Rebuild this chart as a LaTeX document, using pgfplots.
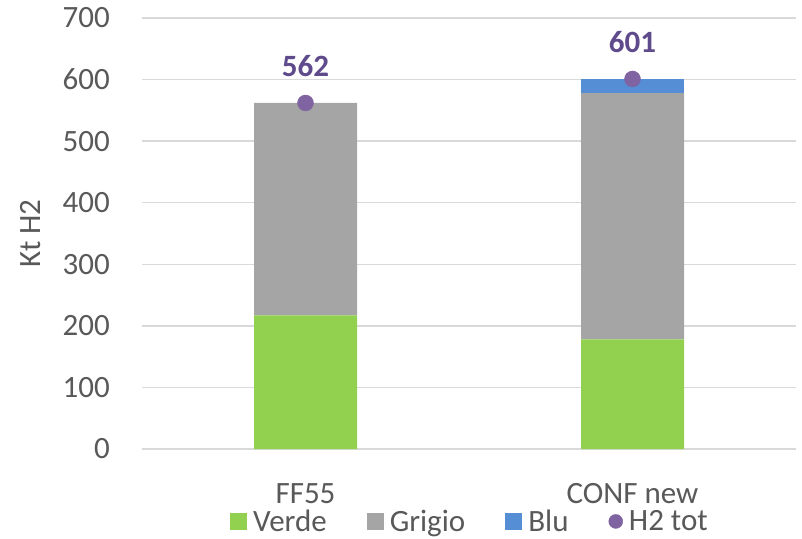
\documentclass[border=0pt]{standalone}
\usepackage{fontspec}
\setmainfont{Carlito}
\usepackage{pgfplots}
\pgfplotsset{compat=1.18}
\definecolor{verde}{RGB}{146,208,80}
\definecolor{grigio}{RGB}{165,165,165}
\definecolor{blu}{RGB}{85,142,213}
\definecolor{viola}{RGB}{128,100,162}
\definecolor{violadark}{RGB}{95,75,139}
\definecolor{txt}{RGB}{89,89,89}
\definecolor{gridc}{RGB}{217,217,217}
\newcommand{\bigf}{\fontsize{31}{36}\selectfont}
\begin{document}
\begin{tikzpicture}
\useasboundingbox (-142pt,-89pt) rectangle (660pt,449pt);
\pgfplotsset{base/.style={scale only axis, width=654pt, height=431pt,
  xmin=-0.5, xmax=1.5, ymin=0, ymax=700, clip=false,
  /pgf/number format/assume math mode=true}}
\begin{axis}[base, ybar stacked, bar width=103pt,
  axis line style={draw=none}, major tick length=0pt,
  ytick={0,100,...,700}, ymajorgrids, grid style={gridc, line width=1.3pt},
  xtick={0,1}, xticklabels={FF55, CONF new},
  tick label style={font=\bigf, text=txt},
  yticklabel style={anchor=east, inner sep=0pt, xshift=-32pt},
  xticklabel style={anchor=base, inner sep=0pt, yshift=-54pt},
  ylabel={Kt H2},
  every axis y label/.style={at={(axis description cs:-0.171,0.5)}, rotate=90, anchor=center, font=\bigf, text=txt},
  legend columns=4,
  legend style={draw=none, fill=none, at={(axis description cs:0.5,-0.168)}, anchor=center,
    font=\bigf, text=txt,
    /tikz/every odd column/.append style={column sep=6pt},
    /tikz/every even column/.append style={column sep=40pt},
    nodes={inner sep=0pt}},
]
\addplot[fill=verde, draw=none, legend image code/.code={\fill[verde] (0pt,-8.5pt) rectangle (17pt,8.5pt);}] coordinates {(0,217) (1,178)};
\addlegendentry{Verde}
\addplot[fill=grigio, draw=none, legend image code/.code={\fill[grigio] (0pt,-8.5pt) rectangle (17pt,8.5pt);}] coordinates {(0,345) (1,400)};
\addlegendentry{Grigio}
\addplot[fill=blu, draw=none, legend image code/.code={\fill[blu] (0pt,-8.5pt) rectangle (17pt,8.5pt);}] coordinates {(0,0) (1,23)};
\addlegendentry{Blu}
\addlegendimage{legend image code/.code={\fill[viola] (7pt,0pt) circle (7pt);}}
\addlegendentry{H2 tot}
\end{axis}
\begin{axis}[base, hide axis]
\addplot[only marks, mark=*, mark size=8pt, color=viola,
  nodes near coords,
  every node near coord/.append style={font=\bfseries\bigf, text=violadark, anchor=base, inner sep=0pt, yshift=26pt}]
  coordinates {(0,562) (1,601)};
\end{axis}
\end{tikzpicture}
\end{document}
